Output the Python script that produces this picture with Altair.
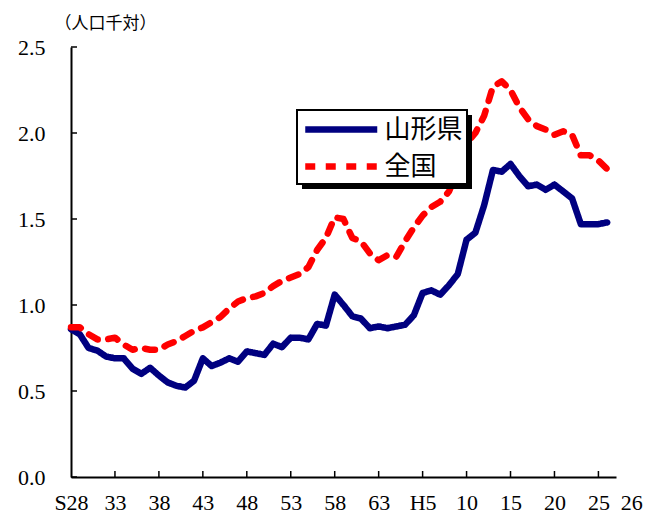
import altair as alt
import pandas as pd

# ---- data ----
years = list(range(1953, 2015))  # S28 .. H26

yamagata = [
    0.86, 0.83, 0.75, 0.735, 0.70, 0.69, 0.69, 0.63, 0.60, 0.635,
    0.59, 0.55, 0.53, 0.52, 0.56, 0.69, 0.645, 0.665, 0.69, 0.67,
    0.73, 0.72, 0.71, 0.775, 0.755, 0.81, 0.81, 0.80, 0.89, 0.88,
    1.06, 1.00, 0.935, 0.92, 0.865, 0.875, 0.865, 0.875, 0.885, 0.94,
    1.07, 1.085, 1.06, 1.115, 1.18, 1.38, 1.42, 1.58, 1.785, 1.775,
    1.82, 1.75, 1.69, 1.70, 1.67, 1.70, 1.66, 1.62, 1.47, 1.47,
    1.47, 1.48,
]

zenkoku = [
    0.87, 0.87, 0.83, 0.80, 0.80, 0.81, 0.77, 0.74, 0.75, 0.74,
    0.74, 0.77, 0.79, 0.82, 0.85, 0.87, 0.90, 0.93, 0.98, 1.02,
    1.04, 1.05, 1.07, 1.11, 1.14, 1.16, 1.18, 1.22, 1.32, 1.39,
    1.51, 1.50, 1.39, 1.37, 1.30, 1.26, 1.29, 1.28, 1.37, 1.45,
    1.52, 1.57, 1.60, 1.66, 1.78, 1.94, 2.00, 2.10, 2.27, 2.30,
    2.25, 2.15, 2.08, 2.04, 2.02, 1.99, 2.01, 1.99, 1.87, 1.87,
    1.84, 1.79,
]

series_names = ["山形県", "全国"]
series_colors = ["#000080", "#FF0000"]

x_label_years = [1953, 1958, 1963, 1968, 1973, 1978, 1983, 1988, 1993,
                 1998, 2003, 2008, 2013, 2014]
x_labels = ["S28", "33", "38", "43", "48", "53", "58", "63", "H5",
            "10", "15", "20", "25", "26"]
x_tick_years = [1958, 1963, 1968, 1973, 1978, 1983, 1988, 1993,
                1998, 2003, 2008, 2013]
y_ticks = [0.0, 0.5, 1.0, 1.5, 2.0, 2.5]
y_unit = "（人口千対）"

# ---- tables ----
df = pd.DataFrame({
    "year": years * 2,
    "value": yamagata + zenkoku,
    "series": [series_names[0]] * len(years) + [series_names[1]] * len(years),
})
xt = pd.DataFrame({"year": x_tick_years})
yt = pd.DataFrame({"v": y_ticks})

label_map = "{" + ",".join(f"'{y}':'{l}'" for y, l in zip(x_label_years, x_labels)) + "}"
label_expr = f"{label_map}[toString(datum.value)]"

xscale = alt.Scale(domain=[1953, 2015], nice=False, zero=False)
yscale = alt.Scale(domain=[0, 2.5], nice=False, zero=True)

x_axis = alt.Axis(
    values=x_label_years, labelExpr=label_expr, ticks=False, grid=False,
    domainColor="black", domainWidth=2, labelFont="Liberation Serif",
    labelFontSize=22, labelColor="black", labelPadding=15, title=None,
    labelOverlap=False, labelFlush=False,
    labelOffset={"condition": {"test": "datum.value == 2014", "value": 24}, "value": 0},
)
y_axis = alt.Axis(
    values=y_ticks, format=".1f", ticks=False, grid=False,
    domainColor="black", domainWidth=2, labelFont="Liberation Serif",
    labelFontSize=22, labelColor="black", labelPadding=26,
    title=y_unit, titleAngle=0, titleX=-17, titleY=-15, titleAlign="left",
    titleBaseline="bottom", titleFont="Noto Sans CJK JP", titleFontSize=17,
    titleFontWeight="normal", titleColor="black",
)

legend_kw = dict(
    orient="none", legendX=226, legendY=63, title=None,
    fillColor="white", strokeColor="black", padding=4, cornerRadius=0,
    symbolType="M-3,0H3", symbolSize=576, symbolStrokeWidth=6.5,
    symbolOffset=24.75, labelOffset=27.75, labelFont="Noto Sans CJK JP",
    labelFontSize=26, labelColor="black", rowPadding=8,
)
color = alt.Color(
    "series:N",
    scale=alt.Scale(domain=series_names, range=series_colors),
    legend=alt.Legend(**legend_kw),
)
dash = alt.StrokeDash(
    "series:N",
    scale=alt.Scale(domain=series_names, range=[[1, 0], [10, 10.5]]),
    legend=alt.Legend(**legend_kw),
)

base = alt.Chart(df).mark_line(
    strokeWidth=6.5, strokeCap="round", strokeJoin="round"
).encode(
    x=alt.X("year:Q", scale=xscale, axis=x_axis),
    y=alt.Y("value:Q", scale=yscale, axis=y_axis),
    color=color,
    strokeDash=dash,
)
blue = base.transform_filter(alt.datum.series == series_names[0])
red = base.transform_filter(alt.datum.series == series_names[1])

xticks = alt.Chart(xt).mark_rule(color="black", strokeWidth=1.5).encode(
    x=alt.X("year:Q", scale=xscale),
    y=alt.value(430), y2=alt.value(424),
)
yticks = alt.Chart(yt).mark_rule(color="black", strokeWidth=1.5).encode(
    y=alt.Y("v:Q", scale=yscale),
    x=alt.value(0), x2=alt.value(6),
)
shadow = alt.Chart(pd.DataFrame({"k": [0]})).mark_rect(color="black").encode(
    x=alt.value(231), x2=alt.value(401), y=alt.value(68), y2=alt.value(142),
)

chart = alt.layer(blue, red, xticks, yticks, shadow).properties(
    width=545, height=430,
    autosize=alt.AutoSizeParams(type="none"),
    padding={"left": 63, "top": 39, "right": 30, "bottom": 35},
).configure_view(stroke=None).configure_legend(strokeWidth=2)

chart.save("out.html", embed_options={"renderer": "svg", "actions": False})
